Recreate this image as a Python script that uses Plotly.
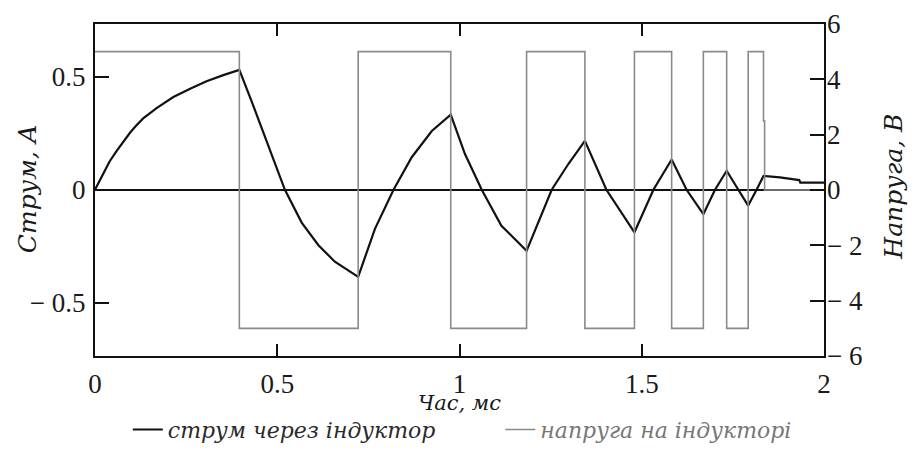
import plotly.graph_objects as go

# Current through inductor (A)
t_cur = [0, 0.012, 0.023, 0.04, 0.06, 0.078, 0.096, 0.115, 0.133, 0.169, 0.215, 0.261, 0.306, 0.352, 0.396,
         0.43, 0.475, 0.521, 0.567, 0.613, 0.658, 0.722,
         0.768, 0.819, 0.869, 0.924, 0.976,
         1.015, 1.061, 1.115, 1.184,
         1.253, 1.299, 1.344,
         1.403, 1.48,
         1.532, 1.582,
         1.623, 1.669,
         1.701, 1.733,
         1.765, 1.792,
         1.815, 1.834,
         1.879, 1.932, 1.935, 2.0]
i_cur = [0, 0.038, 0.072, 0.125, 0.173, 0.215, 0.252, 0.287, 0.317, 0.361, 0.41, 0.447, 0.48, 0.507, 0.53,
         0.39, 0.20, 0, -0.145, -0.245, -0.318, -0.385,
         -0.173, 0, 0.144, 0.26, 0.332,
         0.158, 0, -0.159, -0.27,
         0, 0.115, 0.216,
         0, -0.188,
         0, 0.134,
         0, -0.108,
         0, 0.084,
         0, -0.07,
         0, 0.061,
         0.055, 0.043, 0.032, 0.032]

# Voltage across inductor (V), step series
t_volt = [0, 0.396, 0.722, 0.976, 1.184, 1.344, 1.48, 1.582, 1.669, 1.733, 1.792, 1.834, 1.837, 2.0]
v_volt = [5, -5, 5, -5, 5, -5, 5, -5, 5, -5, 5, 2.5, 0, 0]

x_ticks = [0, 0.5, 1, 1.5, 2]
x_ticktext = ["0", "0.5", "1", "1.5", "2"]
yl_ticks = [-0.5, 0, 0.5]
yl_ticktext = ["\u2212 0.5", "0", "0.5"]
yr_ticks = [-6, -4, -2, 0, 2, 4, 6]
yr_ticktext = ["\u2212 6", "\u2212 4", "\u2212 2", "0", "2", "4", "6"]

name_i = "струм через індуктор"
name_v = "напруга на індукторі"
title_x = "Час, мс"
title_yl = "Струм, А"
title_yr = "Напруга, В"

TICKFONT = "Liberation Serif"
TFONT = "DejaVu Serif"
TXT = "#1a1a1a"

fig = go.Figure()
fig.add_trace(go.Scatter(x=t_volt, y=v_volt, yaxis="y2", legend="legend2",
                         name=name_v,
                         mode="lines", line=dict(color="#8a8a8a", width=1.6, shape="hv")))
fig.add_trace(go.Scatter(x=t_cur, y=i_cur, name=name_i, yaxis="y", legend="legend",
                         mode="lines", line=dict(color="#111111", width=2.2)))

legend_common = dict(orientation="h", y=-0.222, xanchor="left", yanchor="middle",
                     bgcolor="rgba(0,0,0,0)", itemwidth=30)

fig.update_layout(
    width=914, height=463,
    margin=dict(l=95, r=90, t=24, b=100),
    paper_bgcolor="white", plot_bgcolor="white",
    font=dict(family=TICKFONT, size=27, color=TXT),
    showlegend=True,
    legend=dict(x=0.045, font=dict(family=TFONT, size=22, color="#2a2a2a", style="italic"),
                **legend_common),
    legend2=dict(x=0.556, font=dict(family=TFONT, size=22, color="#777777", style="italic"),
                 **legend_common),
    xaxis=dict(range=[0, 2], tickvals=x_ticks, ticktext=x_ticktext,
               ticks="inside", ticklen=12, tickwidth=2, tickcolor="#111",
               showline=True, linecolor="#111", linewidth=2, mirror="ticks",
               showgrid=False, zeroline=False, ticklabelstandoff=3, automargin=False,
               tickfont=dict(family=TICKFONT, size=27, color=TXT)),
    yaxis=dict(range=[-0.735, 0.733], tickvals=yl_ticks, ticktext=yl_ticktext,
               ticks="inside", ticklen=14, tickwidth=2, tickcolor="#111",
               showline=True, linecolor="#111", linewidth=2, mirror=True,
               showgrid=False, zeroline=True, zerolinecolor="#111", zerolinewidth=2,
               ticklabelstandoff=2, automargin=False,
               tickfont=dict(family=TICKFONT, size=27, color=TXT)),
    yaxis2=dict(range=[-6, 6], tickvals=yr_ticks, ticktext=yr_ticktext,
                overlaying="y", side="right",
                ticks="inside", ticklen=14, tickwidth=2, tickcolor="#111",
                showline=False, showgrid=False, zeroline=False,
                ticklabelstandoff=2, automargin=False,
                tickfont=dict(family=TICKFONT, size=27, color=TXT)),
    annotations=[
        dict(text=title_x, xref="paper", yref="paper", x=0.5, y=-0.142,
             xanchor="center", yanchor="middle", showarrow=False,
             font=dict(family=TFONT, size=21, color=TXT, style="italic")),
        dict(text=title_yl, xref="paper", yref="paper", x=-0.0926, y=0.504,
             xanchor="center", yanchor="middle", textangle=-90, showarrow=False,
             font=dict(family=TFONT, size=25, color=TXT, style="italic")),
        dict(text=title_yr, xref="paper", yref="paper", x=1.096, y=0.51,
             xanchor="center", yanchor="middle", textangle=-90, showarrow=False,
             font=dict(family=TFONT, size=25, color=TXT, style="italic")),
    ],
)

fig.write_html("out.html", config={"displayModeBar": False},
               post_script="document.body.style.margin='0';document.body.style.overflow='hidden';")
